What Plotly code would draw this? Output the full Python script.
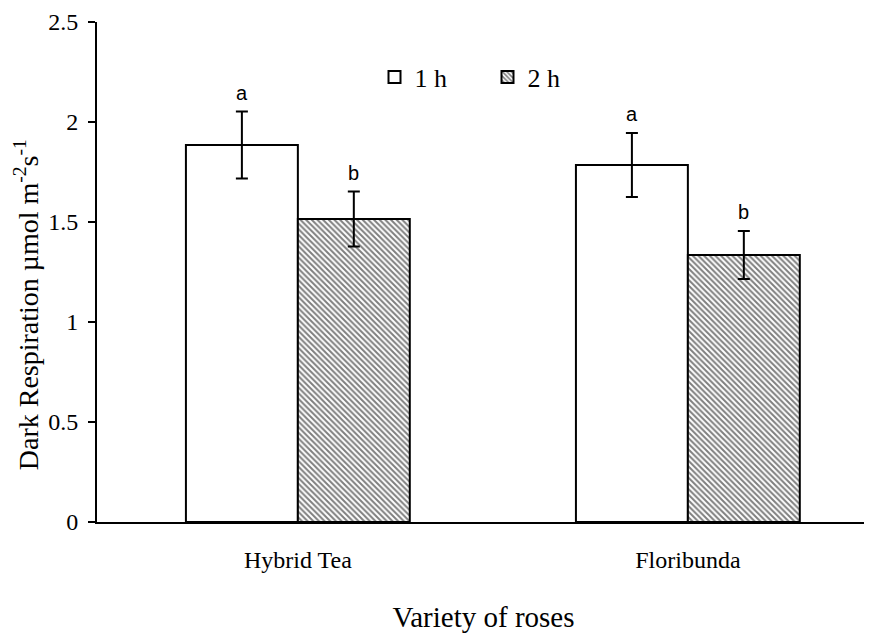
import plotly.graph_objects as go

categories = ["Hybrid Tea", "Floribunda"]
series_names = ["1 h", "2 h"]
values_1h = [1.885, 1.785]
values_2h = [1.515, 1.335]
err_1h = [0.167, 0.16]
err_2h = [0.137, 0.12]
letters_1h = ["a", "a"]
letters_2h = ["b", "b"]

SERIF = "Liberation Serif, Times New Roman, serif"
SANS = "Liberation Sans, Arial, sans-serif"

fig = go.Figure()
fig.add_trace(go.Bar(
    x=categories, y=values_1h, name=series_names[0],
    marker=dict(color="white", line=dict(color="black", width=2)),
    error_y=dict(type="data", array=err_1h, color="black", thickness=2, width=6),
))
fig.add_trace(go.Bar(
    x=categories, y=values_2h, name=series_names[1],
    marker=dict(color="white", line=dict(color="black", width=2),
                pattern=dict(shape="\\", size=4, solidity=0.5, fgcolor="black", bgcolor="white")),
    error_y=dict(type="data", array=err_2h, color="black", thickness=2, width=6),
))

for vals, errs, letters, shift in [(values_1h, err_1h, letters_1h, -56), (values_2h, err_2h, letters_2h, 56)]:
    for c, v, e, t in zip(categories, vals, errs, letters):
        fig.add_annotation(x=c, y=v + e, text=t, showarrow=False, xshift=shift,
                           yanchor="bottom", yshift=6,
                           font=dict(family=SANS, size=20, color="black"))

# y-axis title placed like the original (offset below plot centre)
fig.add_annotation(xref="paper", yref="paper", x=-0.0915, y=0.434,
                   text="Dark Respiration µmol m<sup>-2</sup>s<sup>-1</sup>",
                   textangle=-90, showarrow=False, xanchor="center", yanchor="middle",
                   font=dict(family=SERIF, size=28, color="black"))

fig.update_layout(
    width=864, height=625,
    paper_bgcolor="white", plot_bgcolor="white",
    margin=dict(l=89, r=2, t=14, b=111),
    barmode="group", bargap=0.426, bargroupgap=0,
    font=dict(family=SERIF, color="black"),
    legend=dict(orientation="h", x=0.359, y=0.89, xanchor="left", yanchor="middle",
                font=dict(family=SERIF, size=26, color="black"), bgcolor="rgba(0,0,0,0)",
                itemwidth=30, entrywidth=68, entrywidthmode="pixels"),
    xaxis=dict(range=[-0.515, 1.467], showline=True, linecolor="black", linewidth=2,
               ticks="", tickfont=dict(family=SERIF, size=24), automargin=False,
               ticklabelstandoff=15,
               title=dict(text="Variety of roses", font=dict(family=SERIF, size=29), standoff=39)),
    yaxis=dict(range=[0, 2.5], dtick=0.5, showline=True, linecolor="black", linewidth=2,
               ticks="outside", ticklen=7, tickwidth=1.5, tickcolor="black",
               showgrid=False, zeroline=False, automargin=False,
               ticklabelstandoff=5,
               tickfont=dict(family=SERIF, size=24)),
)

fig.write_html("out.html")
